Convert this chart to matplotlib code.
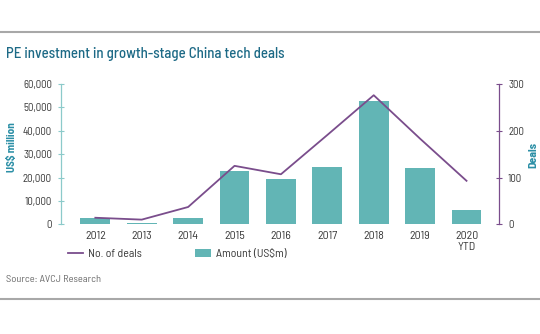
import matplotlib.pyplot as plt
from matplotlib import font_manager
from matplotlib.lines import Line2D
from matplotlib.patches import Patch
import numpy as np

years = ["2012", "2013", "2014", "2015", "2016", "2017", "2018", "2019", "2020\nYTD"]
amount_usdm = [2800, 400, 2800, 23000, 19300, 24500, 52700, 24200, 6200]
num_deals = [14, 10, 37, 125, 107, 191, 276, 183, 93]

TEAL = "#62b5b5"
PURPLE = "#7a4d8c"
TITLE_BLUE = "#1d6a86"
LABEL_BLUE = "#2b8fa6"
TEXT = "#3a3a3a"

# prefer a narrow DIN-like face, fall back to Roboto
installed = {f.name for f in font_manager.fontManager.ttflist}
preferred = ["Barlow Semi Condensed", "Roboto Condensed", "Encode Sans Semi Condensed",
             "Saira Semi Condensed", "Roboto"]
face = next(f for f in preferred if f in installed)
plt.rcParams["font.family"] = [face, "DejaVu Sans"]

fig = plt.figure(figsize=(5.4, 3.34), dpi=100)
ax = fig.add_axes([61 / 540, 1 - 224.3 / 334, (499 - 61) / 540, (224.3 - 84) / 334])
ax2 = ax.twinx()

x = np.arange(len(years))
ax.bar(x, amount_usdm, width=0.64, color=TEAL, zorder=2)
ax2.plot(x, num_deals, color=PURPLE, lw=1.3, zorder=3)

ax.set_xlim(-0.74, len(years) - 1 + 0.70)
ax.set_ylim(0, 60000)
ax2.set_ylim(0, 300)
ax.set_yticks(np.arange(0, 60001, 10000))
ax.set_yticklabels([f"{v:,}" for v in range(0, 60001, 10000)])
ax2.set_yticks([0, 100, 200, 300])
ax.set_xticks(x)
ax.set_xticklabels(years, linespacing=1.1)

for a in (ax, ax2):
    for s in ("top", "bottom"):
        a.spines[s].set_visible(False)
ax.spines["right"].set_visible(False)
ax2.spines["left"].set_visible(False)
ax.spines["left"].set_color("#8ccaca")
ax.spines["left"].set_linewidth(0.9)
ax2.spines["right"].set_color(PURPLE)
ax2.spines["right"].set_linewidth(0.9)

ax.tick_params(axis="x", length=0, pad=5, labelsize=8.5, labelcolor=TEXT)
ax.tick_params(axis="y", direction="inout", length=5, width=0.8, color="#8ccaca",
               labelsize=7.8, labelcolor=TEXT, pad=4)
ax2.tick_params(axis="y", direction="inout", length=5, width=0.8, color=PURPLE,
                labelsize=7.8, labelcolor=TEXT, pad=4)

ax.set_ylabel("US$ million", color=LABEL_BLUE, fontsize=8, fontweight="bold")
ax.yaxis.set_label_coords(-0.1005, 0.55)
ax2.set_ylabel("Deals", color=LABEL_BLUE, fontsize=8.5, fontweight="bold")
ax2.yaxis.set_label_coords(1.066, 0.494)

handles = [Line2D([0], [0], color=PURPLE, lw=1.3),
           Patch(facecolor=TEAL, edgecolor="none")]
fig.legend(handles, ["No. of deals", "Amount (US$m)"], loc="center left",
           bbox_to_anchor=(57 / 540, 1 - 254 / 334), ncol=2, frameon=False,
           fontsize=8.5, labelcolor=TEXT, handlelength=1.3, handleheight=0.6,
           handletextpad=0.45, columnspacing=4.5)

fig.text(6 / 540, 1 - 54 / 334, "PE investment in growth-stage China tech deals",
         color=TITLE_BLUE, fontsize=10.7, fontweight="medium", va="center", ha="left")
fig.text(6 / 540, 1 - 280 / 334, "Source: AVCJ Research", color="#6a6a6a",
         fontsize=7.5, va="center", ha="left")

# horizontal rules framing the figure
for yy in (32, 299):
    fig.add_artist(Line2D([0, 1], [1 - yy / 334, 1 - yy / 334], color="#a8a8a8", lw=1.5))

fig.savefig("out.png", dpi=100)
